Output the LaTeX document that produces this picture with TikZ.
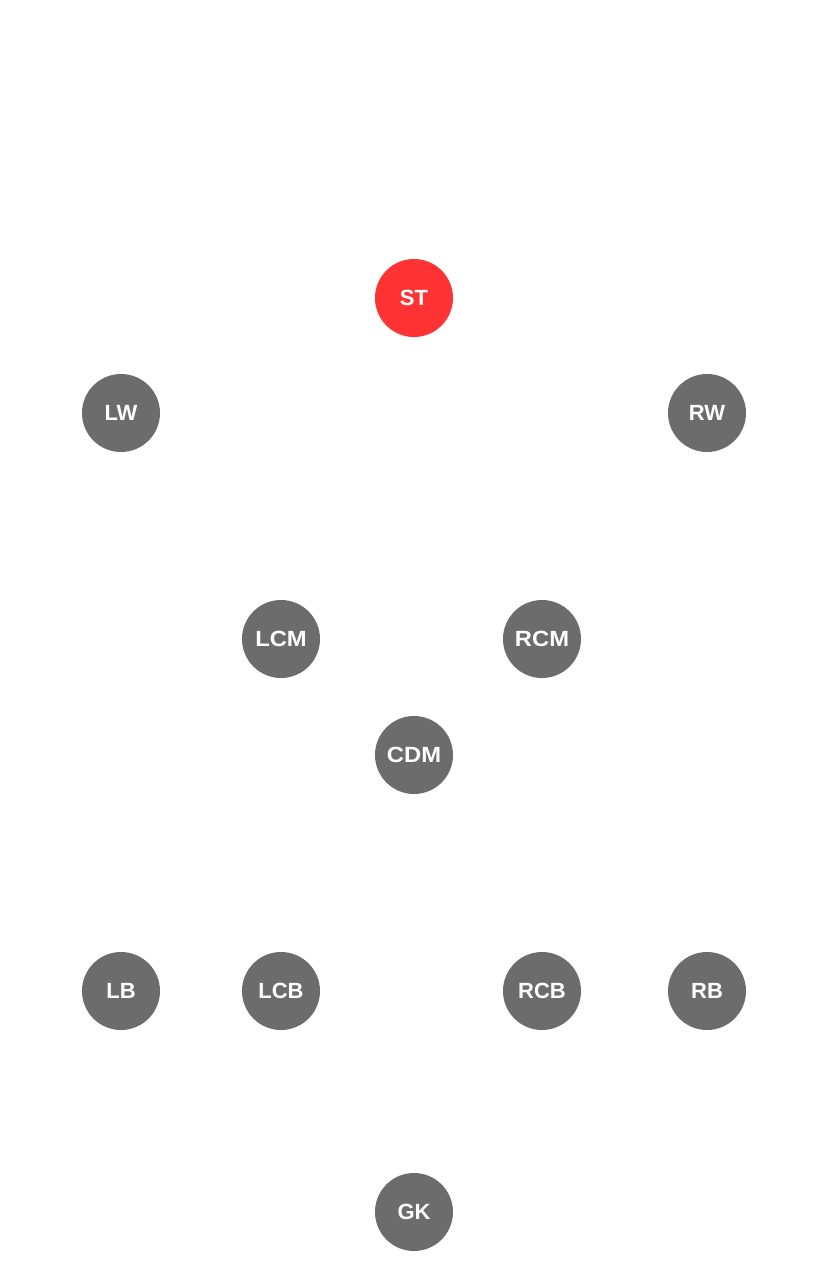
\documentclass[tikz,border=0pt]{standalone}
\usepackage{fontspec}
\setmainfont{Liberation Sans}
\definecolor{stred}{HTML}{FF3333}
\definecolor{plgrey}{HTML}{6C6C6C}
\begin{document}
\begin{tikzpicture}[x=1pt,y=-1pt,
  player/.style={circle,fill=plgrey,minimum size=78pt,inner sep=0pt,text=white,font=\fontsize{22}{22}\selectfont\bfseries},
  striker/.style={player,fill=stred}]
\useasboundingbox (0,0) rectangle (829,1280);
\fill[white] (0,0) rectangle (829,1280);
\node[striker] (ST) at (414,298) {ST};
\node[player] (LW) at (121,413) {LW};
\node[player] (RW) at (707,413) {RW};
\node[player] (LCM) at (281,639) {\scalebox{1.08}[1]{LCM}};
\node[player] (RCM) at (542,639) {\scalebox{1.08}[1]{RCM}};
\node[player] (CDM) at (414,755) {\scalebox{1.08}[1]{CDM}};
\node[player] (LB) at (121,991) {LB};
\node[player] (LCB) at (281,991) {LCB};
\node[player] (RCB) at (542,991) {RCB};
\node[player] (RB) at (707,991) {RB};
\node[player] (GK) at (414,1212) {GK};
\end{tikzpicture}
\end{document}
